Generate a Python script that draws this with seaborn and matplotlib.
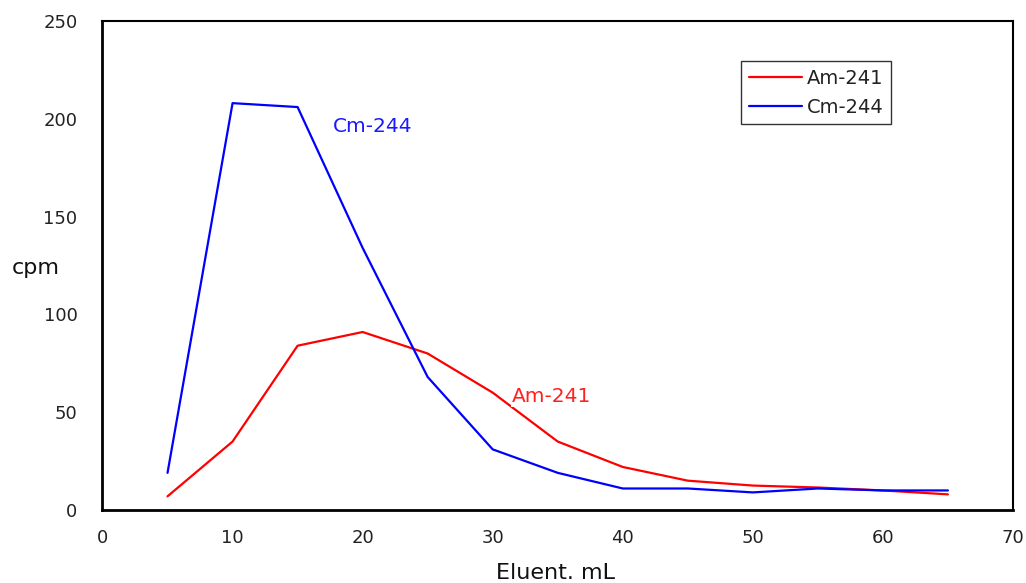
import matplotlib
matplotlib.use("Agg")
import matplotlib.pyplot as plt
import seaborn as sns
import pandas as pd

eluent_ml = [5, 10, 15, 20, 25, 30, 35, 40, 45, 50, 55, 60, 65]
am241 = [7, 35, 84, 91, 80, 60, 35, 22, 15, 12.5, 11.5, 10, 8]
cm244 = [19, 208, 206, 134, 68, 31, 19, 11, 11, 9, 11, 10, 10]
series_names = ["Am-241", "Cm-244"]
x_ticks = [0, 10, 20, 30, 40, 50, 60, 70]
y_ticks = [0, 50, 100, 150, 200, 250]

df = pd.DataFrame({
    "x": eluent_ml * 2,
    "y": am241 + cm244,
    "series": [series_names[0]] * len(eluent_ml) + [series_names[1]] * len(eluent_ml),
})

sns.set_theme(style="white")
plt.rcParams["font.family"] = ["DejaVu Sans"]

fig = plt.figure(figsize=(10.26, 5.83), dpi=100)
ax = fig.add_axes([0.0999, 0.1252, 0.8874, 0.8388])

sns.lineplot(data=df, x="x", y="y", hue="series",
             palette={"Am-241": "#ff0000", "Cm-244": "#0000ff"},
             linewidth=1.6, ax=ax, legend=True)

ax.set_xlim(0, 70)
ax.set_ylim(0, 250)
ax.set_xticks(x_ticks)
ax.set_yticks(y_ticks)
ax.tick_params(axis="both", direction="in", length=5, width=1, colors="black",
               labelsize=13, labelcolor="#222222")
ax.tick_params(axis="y", pad=18)
ax.tick_params(axis="x", pad=14)
for s in ax.spines.values():
    s.set_color("black")
    s.set_linewidth(1.5)
ax.spines["left"].set_linewidth(2)
ax.spines["bottom"].set_linewidth(2)

ax.set_xlabel("Eluent. mL", fontsize=16, color="#111111")
ax.xaxis.set_label_coords(0.497, -0.108)
ax.set_ylabel("cpm", fontsize=16, color="#111111", rotation=0, va="center", ha="center")
ax.yaxis.set_label_coords(-0.073, 0.495)

ax.text(17.7, 196, "Cm-244", color="#1a1aff", fontsize=14.5, ha="left", va="center")
ax.text(31.5, 58, "Am-241", color="#ff2020", fontsize=14.5, ha="left", va="center",
        bbox=dict(facecolor="white", edgecolor="none", pad=1.0), zorder=5)

leg = ax.legend(loc="upper right", bbox_to_anchor=(0.866, 0.918), fontsize=14,
                frameon=True, fancybox=False, edgecolor="black", handlelength=2.7,
                handletextpad=0.25, borderpad=0.4, labelspacing=0.5, borderaxespad=0,
                title=None)
leg.get_frame().set_linewidth(1)
for t in leg.get_texts():
    t.set_color("#222222")

fig.savefig("out.png", dpi=100)
